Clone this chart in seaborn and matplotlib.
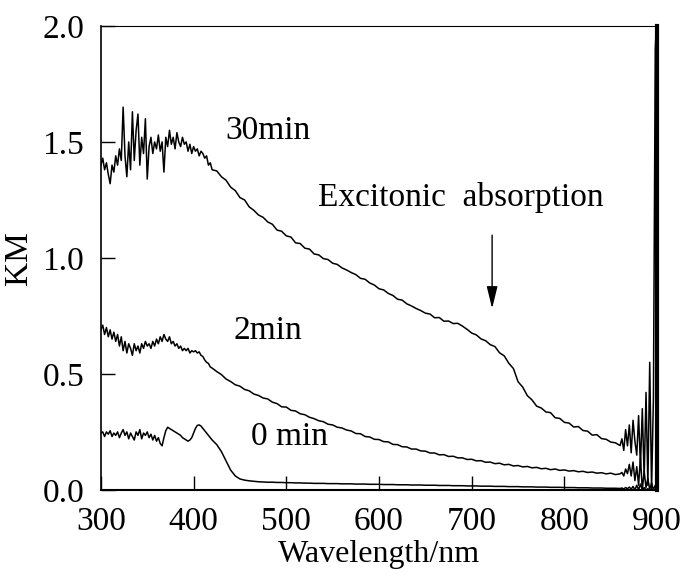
import numpy as np
import pandas as pd
import seaborn as sns
import matplotlib
matplotlib.use("Agg")
import matplotlib.pyplot as plt

# Grilles de longueur d'onde (nm)
wl_blue = np.arange(300, 421, 2)
wl_mid = np.arange(425, 861, 5)
wl_red = np.arange(862, 901, 2)

# KM - 30 min
km_30_blue = [1.40, 1.43, 1.38, 1.41, 1.36, 1.32, 1.40, 1.37, 1.44, 1.40,
              1.47, 1.42, 1.65, 1.44, 1.35, 1.50, 1.38, 1.63, 1.42, 1.55,
              1.62, 1.40, 1.52, 1.45, 1.60, 1.34, 1.48, 1.52, 1.45, 1.50,
              1.47, 1.53, 1.46, 1.50, 1.37, 1.52, 1.48, 1.55, 1.49, 1.52,
              1.47, 1.54, 1.50, 1.48, 1.52, 1.49, 1.50, 1.46, 1.49, 1.45,
              1.48, 1.46, 1.47, 1.44, 1.46, 1.45, 1.43, 1.44, 1.40, 1.41,
              1.38]
km_30_mid = [1.375, 1.35, 1.335, 1.305, 1.29, 1.26, 1.25, 1.22, 1.205, 1.185,
             1.175, 1.155, 1.145, 1.12, 1.115, 1.095, 1.09, 1.065, 1.062, 1.042,
             1.038, 1.017, 1.013, 0.997, 0.993, 0.977, 0.972, 0.957, 0.948, 0.937,
             0.928, 0.912, 0.908, 0.892, 0.883, 0.867, 0.862, 0.847, 0.838, 0.822,
             0.818, 0.802, 0.793, 0.782, 0.773, 0.762, 0.758, 0.742, 0.743, 0.727,
             0.728, 0.717, 0.718, 0.706, 0.692, 0.676, 0.668, 0.651, 0.643, 0.626,
             0.618, 0.591, 0.578, 0.546, 0.523, 0.466, 0.443, 0.406, 0.388, 0.361,
             0.353, 0.336, 0.333, 0.311, 0.308, 0.291, 0.288, 0.271, 0.273, 0.256,
             0.253, 0.236, 0.238, 0.221, 0.218, 0.206, 0.203, 0.191]
km_30_red = [0.22, 0.17, 0.26, 0.19, 0.28, 0.16, 0.30, 0.21, 0.15, 0.32,
             0.10, 0.35, 0.05, 0.42, 0.02, 0.55, 0.0, 0.40, 1.9, 2.1]

# KM - 2 min
km_2_blue = [0.69, 0.71, 0.67, 0.70, 0.66, 0.69, 0.65, 0.68, 0.64, 0.67,
             0.62, 0.66, 0.60, 0.64, 0.59, 0.63, 0.61, 0.58, 0.63, 0.60,
             0.62, 0.59, 0.63, 0.61, 0.64, 0.62, 0.63, 0.61, 0.64, 0.62,
             0.65, 0.63, 0.66, 0.64, 0.67, 0.65, 0.64, 0.66, 0.63, 0.64,
             0.62, 0.63, 0.61, 0.62, 0.60, 0.61, 0.60, 0.61, 0.59, 0.60,
             0.595, 0.60, 0.59, 0.595, 0.58, 0.575, 0.56, 0.55, 0.545, 0.53,
             0.525]
km_2_mid = [0.51, 0.497, 0.478, 0.467, 0.453, 0.447, 0.433, 0.427, 0.413, 0.407,
            0.396, 0.392, 0.378, 0.372, 0.358, 0.357, 0.343, 0.340, 0.328, 0.324,
            0.313, 0.307, 0.298, 0.294, 0.283, 0.280, 0.270, 0.267, 0.258, 0.254,
            0.243, 0.242, 0.230, 0.228, 0.218, 0.217, 0.208, 0.207, 0.196, 0.195,
            0.186, 0.185, 0.176, 0.176, 0.168, 0.167, 0.159, 0.159, 0.151, 0.152,
            0.144, 0.145, 0.138, 0.138, 0.131, 0.132, 0.125, 0.126, 0.119, 0.120,
            0.113, 0.115, 0.108, 0.110, 0.103, 0.105, 0.099, 0.101, 0.095, 0.097,
            0.091, 0.093, 0.087, 0.090, 0.084, 0.086, 0.081, 0.083, 0.078, 0.080,
            0.075, 0.077, 0.072, 0.074, 0.069, 0.072, 0.066, 0.069]
km_2_red = [0.075, 0.06, 0.09, 0.07, 0.11, 0.06, 0.12, 0.04, 0.10, 0.02,
            0.14, 0.0, 0.08, 0.01, 0.05, 0.0, 0.03, 0.0, 0.02, 0.0]

# KM - 0 min
km_0_blue = [0.245, 0.25, 0.23, 0.25, 0.24, 0.255, 0.23, 0.245, 0.235, 0.25,
             0.225, 0.245, 0.26, 0.235, 0.25, 0.22, 0.245, 0.23, 0.215, 0.25,
             0.235, 0.26, 0.22, 0.245, 0.235, 0.25, 0.225, 0.24, 0.215, 0.235,
             0.21, 0.225, 0.20, 0.19, 0.225, 0.255, 0.27, 0.265, 0.26, 0.255,
             0.25, 0.245, 0.24, 0.235, 0.225, 0.22, 0.215, 0.21, 0.215, 0.225,
             0.245, 0.265, 0.278, 0.28, 0.275, 0.265, 0.255, 0.245, 0.235, 0.225,
             0.215]
km_0_mid = [0.195, 0.165, 0.125, 0.085, 0.06, 0.047, 0.042, 0.039, 0.037, 0.035,
            0.034, 0.033, 0.033, 0.032, 0.032, 0.031, 0.031, 0.030, 0.030, 0.029,
            0.029, 0.028, 0.028, 0.028, 0.027, 0.027, 0.027, 0.026, 0.026, 0.026,
            0.025, 0.025, 0.025, 0.024, 0.024, 0.024, 0.023, 0.023, 0.023, 0.022,
            0.022, 0.022, 0.021, 0.021, 0.021, 0.020, 0.020, 0.020, 0.019, 0.019,
            0.019, 0.018, 0.018, 0.018, 0.017, 0.017, 0.017, 0.016, 0.016, 0.016,
            0.015, 0.015, 0.015, 0.014, 0.014, 0.014, 0.013, 0.013, 0.013, 0.012,
            0.012, 0.012, 0.011, 0.011, 0.011, 0.010, 0.010, 0.010, 0.009, 0.009,
            0.009, 0.008, 0.008, 0.008, 0.007, 0.007, 0.007, 0.006]
km_0_red = [0.008, 0.004, 0.01, 0.005, 0.012, 0.003, 0.015, 0.0, 0.02, 0.0,
            0.025, 0.0, 0.01, 0.0, 0.005, 0.0, 0.0, 0.0, 0.0, 0.0]

wl = np.concatenate([wl_blue, wl_mid, wl_red])
series = {
    "30min": km_30_blue + km_30_mid + km_30_red,
    "2min": km_2_blue + km_2_mid + km_2_red,
    "0 min": km_0_blue + km_0_mid + km_0_red,
}

sns.set_style("ticks")
plt.rcParams['font.family'] = ['Liberation Serif', 'DejaVu Serif']
plt.rcParams['text.color'] = 'black'
plt.rcParams['axes.labelcolor'] = 'black'

fig = plt.figure(figsize=(6.91, 5.77), dpi=100)
ax = fig.add_axes([0.146, 0.151, 0.805, 0.804])

for nom, vals in series.items():
    sns.lineplot(x=wl, y=vals, color="black", lw=1.1, ax=ax)

ax.set_xlim(300, 900)
ax.set_ylim(0, 2.0)
ax.set_xticks([300, 400, 500, 600, 700, 800, 900])
ax.set_yticks([0.0, 0.5, 1.0, 1.5, 2.0])
ax.set_yticklabels(["0.0", "0.5", "1.0", "1.5", "2.0"])
ax.tick_params(direction="in", length=10, width=1, labelsize=24, pad=12,
               colors="black")
ax.set_xlabel("Wavelength/nm", fontsize=23, labelpad=2, color="black")
ax.set_ylabel("KM", fontsize=24, labelpad=6, color="black")

for s in ax.spines.values():
    s.set_color("black")
ax.spines["left"].set_linewidth(1.2)
ax.spines["bottom"].set_linewidth(1.5)
ax.spines["top"].set_linewidth(0.8)
ax.spines["right"].set_linewidth(3.0)

ax.text(480, 1.55, "30min", fontsize=24, ha="center", va="center", color="black")
ax.text(688, 1.26, "Excitonic  absorption", fontsize=24, ha="center", va="center",
        color="black")
ax.text(480, 0.685, "2min", fontsize=24, ha="center", va="center", color="black")
ax.text(503, 0.228, "0 min", fontsize=24, ha="center", va="center", color="black")
ax.annotate("", xy=(722, 0.77), xytext=(722, 1.11),
            arrowprops=dict(arrowstyle="-|>,head_width=0.22,head_length=0.9",
                            color="black", lw=1.0, mutation_scale=15))

fig.savefig("out.png", dpi=100)
